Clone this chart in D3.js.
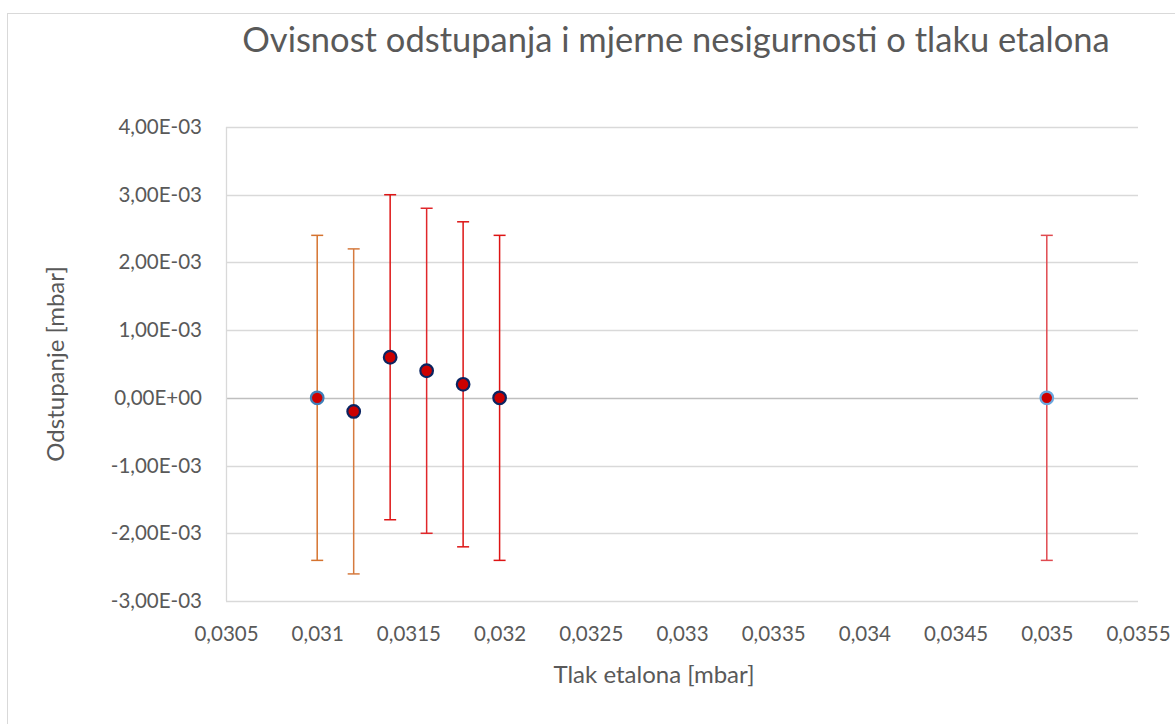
<!DOCTYPE html>
<html>
<head>
<meta charset="utf-8">
<script src="https://cdn.jsdelivr.net/npm/d3@7"></script>
<style>
  body { margin: 0; background: #fff; }
  svg { display: block; font-family: Lato, "Open Sans", sans-serif; }
</style>
</head>
<body>
<div id="d1"></div>
<script>
// values
const pressure = [0.031, 0.0312, 0.0314, 0.0316, 0.0318, 0.032, 0.035];
const deviation = [0, -0.0002, 0.0006, 0.0004, 0.0002, 0, 0];
const uncertainty = [0.0024, 0.0024, 0.0024, 0.0024, 0.0024, 0.0024, 0.0024];
const xTicks = [0.0305, 0.031, 0.0315, 0.032, 0.0325, 0.033, 0.0335, 0.034, 0.0345, 0.035, 0.0355];
const yTicks = [-0.003, -0.002, -0.001, 0, 0.001, 0.002, 0.003, 0.004];

const title = "Ovisnost odstupanja i mjerne nesigurnosti o tlaku etalona";
const xTitle = "Tlak etalona [mbar]";
const yTitle = "Odstupanje [mbar]";

// per-point look (the Excel file had several series)
const markerStroke = ["#3F7FB8", "#0B2461", "#0B2461", "#0B2461", "#0B2461", "#0B2461", "#6AA7DE"];
const barColor = ["#D5732F", "#D57A3E", "#DD1414", "#E0272B", "#DD1414", "#DD1414", "#E04A50"];

const width = 1175, height = 724;
const margin = { top: 127, right: 37, bottom: 123, left: 226 };

const data = pressure.map((p, i) => ({ x: p, y: deviation[i], e: uncertainty[i], i }));

const x = d3.scaleLinear()
    .domain([0.0305, 0.0355])
    .range([margin.left, width - margin.right]);

const y = d3.scaleLinear()
    .domain([-0.003, 0.004])
    .range([height - margin.bottom, margin.top]);

const fmtX = d => String(+d.toFixed(4)).replace(".", ",");
const fmtY = d => {
    if (d === 0) return "0,00E+00";
    const [m, ex] = d.toExponential(2).split("e");
    const n = +ex;
    return m.replace(".", ",") + "E" + (n < 0 ? "-" : "+") + String(Math.abs(n)).padStart(2, "0");
};

const svg = d3.select("#d1")
    .append("svg")
    .attr("width", width)
    .attr("height", height)
    .attr("viewBox", [0, 0, width, height]);

// chart frame
svg.append("rect")
    .attr("x", 7.5).attr("y", 13.5)
    .attr("width", width + 20).attr("height", height + 20)
    .attr("fill", "none")
    .attr("stroke", "#D9D9D9");

// gridlines
svg.append("g")
    .selectAll("line")
    .data(yTicks)
    .join("line")
    .attr("x1", margin.left)
    .attr("x2", width - margin.right)
    .attr("y1", d => Math.round(y(d)) + 0.5)
    .attr("y2", d => Math.round(y(d)) + 0.5)
    .attr("stroke", d => d === 0 ? "#BFBFBF" : "#D9D9D9")
    .attr("stroke-width", d => d === 0 ? 1.5 : 1.3);

// y axis line
svg.append("line")
    .attr("x1", margin.left + 0.5).attr("x2", margin.left + 0.5)
    .attr("y1", y(0.004)).attr("y2", y(-0.003))
    .attr("stroke", "#D9D9D9")
    .attr("stroke-width", 1.3);

// y axis labels
const yAxis = g => g
    .attr("transform", `translate(${margin.left - 24},0)`)
    .call(d3.axisLeft(y).tickValues(yTicks).tickFormat(fmtY).tickSize(0).tickPadding(0))
    .call(g => g.select(".domain").remove())
    .call(g => g.selectAll("text")
        .attr("fill", "#595959")
        .attr("font-size", 20.5)
        .attr("font-family", "Lato, sans-serif"));

// x axis labels
const xAxis = g => g
    .attr("transform", `translate(0,${height - margin.bottom + 25})`)
    .call(d3.axisBottom(x).tickValues(xTicks).tickFormat(fmtX).tickSize(0).tickPadding(0))
    .call(g => g.select(".domain").remove())
    .call(g => g.selectAll("text")
        .attr("fill", "#595959")
        .attr("font-size", 20.5)
        .attr("font-family", "Lato, sans-serif"));

svg.append("g").call(yAxis);
svg.append("g").call(xAxis);

// error bars
const bars = svg.append("g")
    .selectAll("g")
    .data(data)
    .join("g")
    .attr("stroke", d => barColor[d.i])
    .attr("stroke-width", 1.5);

bars.append("line")
    .attr("x1", d => x(d.x)).attr("x2", d => x(d.x))
    .attr("y1", d => y(d.y + d.e)).attr("y2", d => y(d.y - d.e));

bars.selectAll("line.cap")
    .data(d => [d.y + d.e, d.y - d.e].map(v => ({ x: d.x, v })))
    .join("line")
    .attr("class", "cap")
    .attr("x1", d => x(d.x) - 6).attr("x2", d => x(d.x) + 6)
    .attr("y1", d => y(d.v)).attr("y2", d => y(d.v));

// markers
svg.append("g")
    .selectAll("circle")
    .data(data)
    .join("circle")
    .attr("cx", d => x(d.x))
    .attr("cy", d => y(d.y))
    .attr("r", 6.3)
    .attr("fill", "#CC0000")
    .attr("stroke", d => markerStroke[d.i])
    .attr("stroke-width", 2.2);

// titles
svg.append("text")
    .attr("x", 676)
    .attr("y", 52)
    .attr("text-anchor", "middle")
    .attr("fill", "#595959")
    .attr("font-size", 34.5)
    .text(title);

svg.append("text")
    .attr("x", 654)
    .attr("y", 683)
    .attr("text-anchor", "middle")
    .attr("fill", "#595959")
    .attr("font-size", 24)
    .text(xTitle);

svg.append("text")
    .attr("transform", `translate(64,${(y(0.004) + y(-0.003)) / 2}) rotate(-90)`)
    .attr("text-anchor", "middle")
    .attr("fill", "#595959")
    .attr("font-size", 24)
    .text(yTitle);
</script>
</body>
</html>
